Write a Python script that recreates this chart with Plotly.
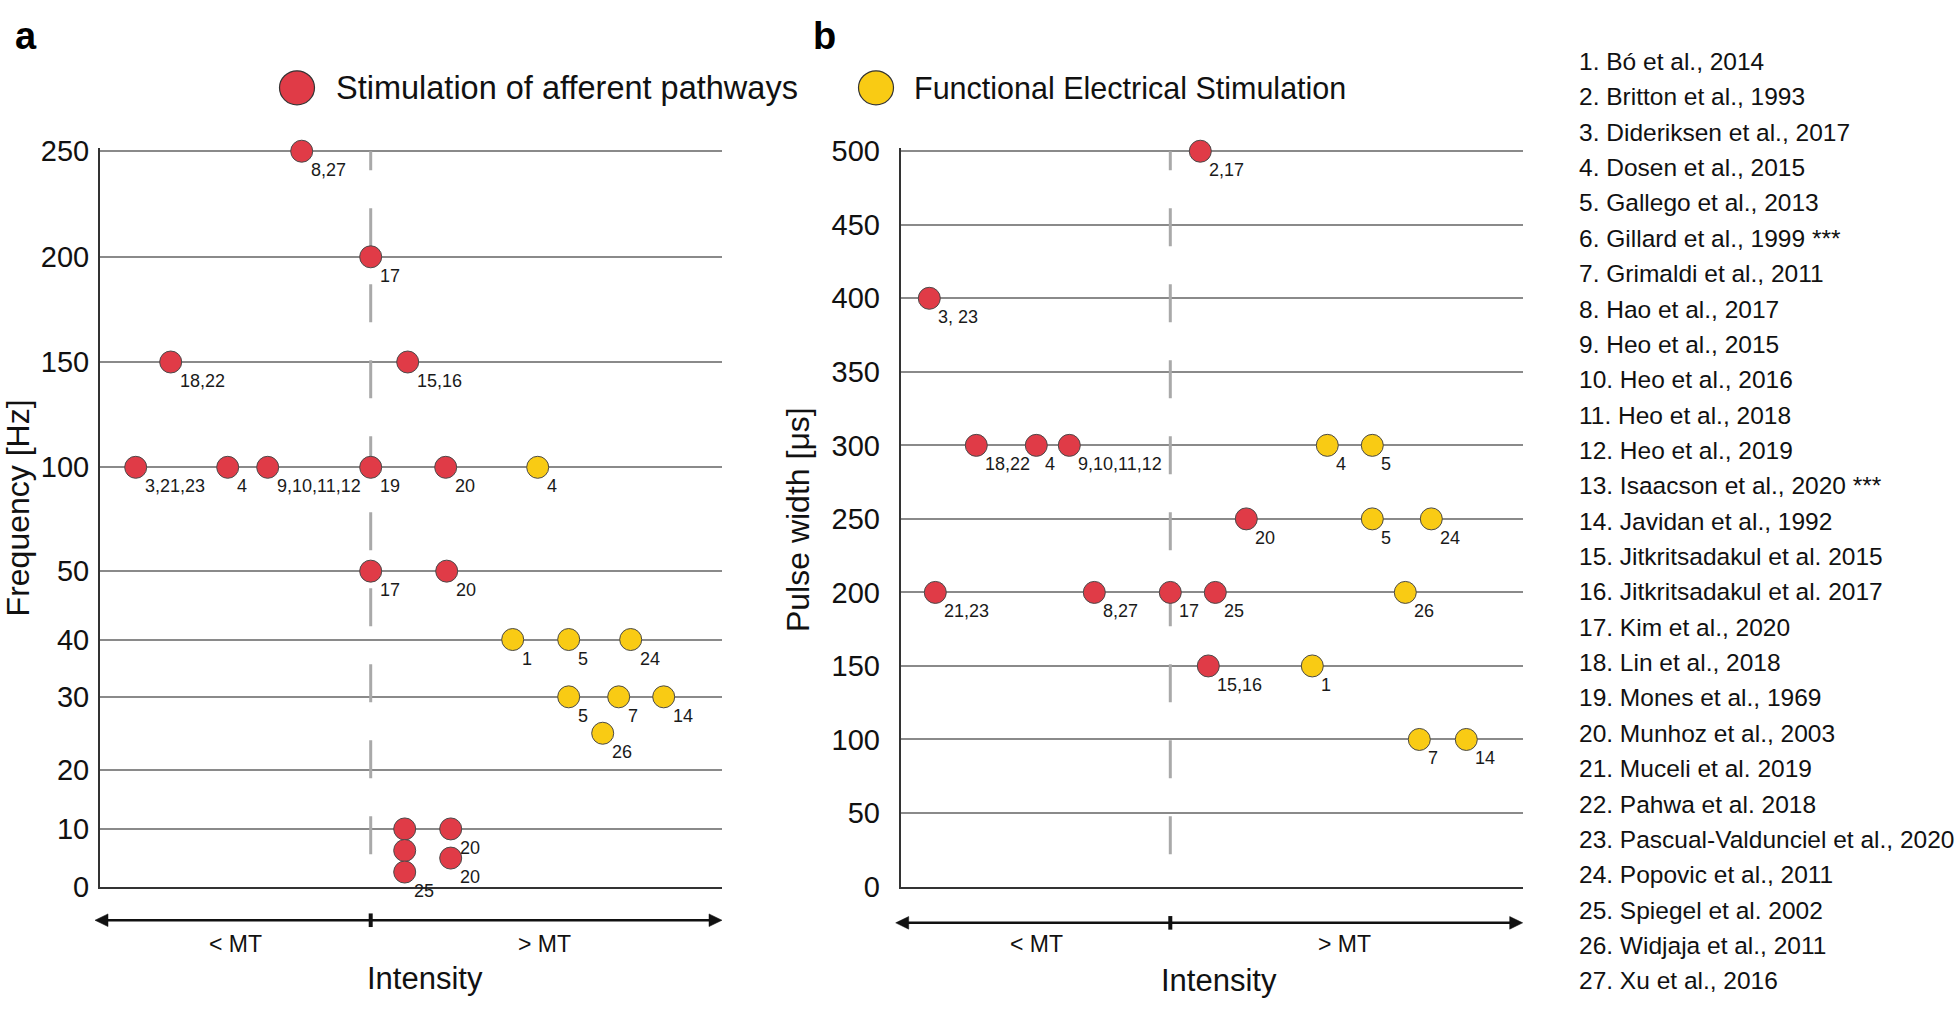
import numpy as np
import plotly.graph_objects as go

W, H = 1960, 1012
FONT = "Liberation Sans, Arial, Helvetica, sans-serif"
RED = "#E03B47"
YELLOW = "#F9CB14"
EDGE = "#4a4a4a"
TXT = "#1a1a1a"

# ---------------- data ----------------
FREQ_TICKS = [0, 10, 20, 30, 40, 50, 100, 150, 200, 250]
PW_TICKS = [0, 50, 100, 150, 200, 250, 300, 350, 400, 450, 500]

# Panel a: frequency [Hz]; x = relative intensity (0 = motor threshold)
freq_red_x = [-69, 0, -200, 37, -235, -143, -103, 0, 75, 0, 76, 34, 34, 34, 80, 80]
freq_red_y = [250, 200, 150, 150, 100, 100, 100, 100, 100, 50, 50, 10, 6.3, 2.6, 10, 5]
freq_red_lbl = ["8,27", "17", "18,22", "15,16", "3,21,23", "4", "9,10,11,12", "19", "20",
                "17", "20", "", "", "25", "20", "20"]
freq_yel_x = [167, 142, 198, 260, 198, 248, 293, 232]
freq_yel_y = [100, 40, 40, 40, 30, 30, 30, 25]
freq_yel_lbl = ["4", "1", "5", "24", "5", "7", "14", "26"]

# Panel b: pulse width [us]
pw_red_x = [30, -241, -194, -134, -101, 76, -235, -76, 0, 45, 38]
pw_red_y = [500, 400, 300, 300, 300, 250, 200, 200, 200, 200, 150]
pw_red_lbl = ["2,17", "3, 23", "18,22", "4", "9,10,11,12", "20", "21,23", "8,27", "17", "25", "15,16"]
pw_yel_x = [157, 202, 202, 261, 235, 142, 249, 296]
pw_yel_y = [300, 300, 250, 250, 200, 150, 100, 100]
pw_yel_lbl = ["4", "5", "5", "24", "26", "1", "7", "14"]

REFERENCES = [
    "1. Bó et al., 2014", "2. Britton et al., 1993", "3. Dideriksen et al., 2017",
    "4. Dosen et al., 2015", "5. Gallego et al., 2013", "6. Gillard et al., 1999 ***",
    "7. Grimaldi et al., 2011", "8. Hao et al., 2017", "9. Heo et al., 2015",
    "10. Heo et al., 2016", "11. Heo et al., 2018", "12. Heo et al., 2019",
    "13. Isaacson et al., 2020 ***", "14. Javidan et al., 1992",
    "15. Jitkritsadakul et al. 2015", "16. Jitkritsadakul et al. 2017",
    "17. Kim et al., 2020", "18. Lin et al., 2018", "19. Mones et al., 1969",
    "20. Munhoz et al., 2003", "21. Muceli et al. 2019", "22. Pahwa et al. 2018",
    "23. Pascual-Valdunciel et al., 2020", "24. Popovic et al., 2011",
    "25. Spiegel et al. 2002", "26. Widjaja et al., 2011", "27. Xu et al., 2016",
]

# ---------------- layout geometry (pixels) ----------------
def px(x):
    return x / W

def py(y):
    return 1 - y / H

# irregular frequency axis: position (px above the axis line) of each tick
FREQ_TICK_POS = [0, 60, 121, 196, 255, 325.4, 432.3, 540.7, 649, 757.7]
EXTRA = 3  # px of headroom so the top gridline is drawn

A_X0, A_X1, A_YB = 100, 722, 900.0
A_YT = A_YB - FREQ_TICK_POS[-1] - EXTRA
B_X0, B_X1, B_YB, B_Y500 = 900.7, 1522.7, 899.3, 142.3
B_SCALE = (B_YB - B_Y500) / 500.0
B_YT = B_Y500 - EXTRA
A_XR = [-270.7, 351.3]
B_XR = [-269.6, 352.4]

fig = go.Figure()


def dash_for(height_px):
    p = height_px / 10.0
    parts = [f"{round(p / 4)}px", f"{round(p / 2)}px"]
    for _ in range(11):
        parts += [f"{round(p / 2)}px", f"{round(p / 2)}px"]
    return ",".join(parts)


def fpos(vals):
    return list(np.interp(vals, FREQ_TICKS, FREQ_TICK_POS))


# divider lines (motor threshold)
fig.add_trace(go.Scatter(x=[0, 0], y=[FREQ_TICK_POS[-1], 0], mode="lines", xaxis="x", yaxis="y",
                         line=dict(color="#a9a9a9", width=3, dash=dash_for(FREQ_TICK_POS[-1])),
                         hoverinfo="skip", showlegend=False))
fig.add_trace(go.Scatter(x=[0, 0], y=[PW_TICKS[-1], 0], mode="lines", xaxis="x2", yaxis="y2",
                         line=dict(color="#a9a9a9", width=3, dash=dash_for(B_YB - B_Y500)),
                         hoverinfo="skip", showlegend=False))

mk = lambda c: dict(size=22, color=c, line=dict(color=EDGE, width=1))

fig.add_trace(go.Scatter(x=freq_red_x, y=fpos(freq_red_y), mode="markers", xaxis="x", yaxis="y",
                         marker=mk(RED), cliponaxis=False, name="Stimulation of afferent pathways",
                         showlegend=False))
fig.add_trace(go.Scatter(x=freq_yel_x, y=fpos(freq_yel_y), mode="markers", xaxis="x", yaxis="y",
                         marker=mk(YELLOW), cliponaxis=False, name="Functional Electrical Stimulation",
                         showlegend=False))
fig.add_trace(go.Scatter(x=pw_red_x, y=pw_red_y, mode="markers", xaxis="x2", yaxis="y2",
                         marker=mk(RED), cliponaxis=False, showlegend=False))
fig.add_trace(go.Scatter(x=pw_yel_x, y=pw_yel_y, mode="markers", xaxis="x2", yaxis="y2",
                         marker=mk(YELLOW), cliponaxis=False, showlegend=False))

annotations = []


def point_labels(xs, ys, labels, xref, yref):
    for x, y, t in zip(xs, ys, labels):
        if not t:
            continue
        annotations.append(dict(x=x, y=y, xref=xref, yref=yref, text=t, showarrow=False,
                                xanchor="left", yanchor="middle", xshift=7, yshift=-19,
                                font=dict(size=18, color=TXT, family=FONT)))


point_labels(freq_red_x, fpos(freq_red_y), freq_red_lbl, "x", "y")
point_labels(freq_yel_x, fpos(freq_yel_y), freq_yel_lbl, "x", "y")
point_labels(pw_red_x, pw_red_y, pw_red_lbl, "x2", "y2")
point_labels(pw_yel_x, pw_yel_y, pw_yel_lbl, "x2", "y2")


def ptext(x, y, text, size, xanchor="center", bold=False, angle=0):
    annotations.append(dict(x=px(x), y=py(y), xref="paper", yref="paper", text=text,
                            showarrow=False, xanchor=xanchor, yanchor="middle", textangle=angle,
                            font=dict(size=size, color="#111" if not bold else "#000",
                                      family=FONT, weight="bold" if bold else "normal")))


# panel letters
ptext(13, 24, "a", 38, "left", bold=True)
ptext(811, 24, "b", 38, "left", bold=True)

# legend
shapes = []
for cx, col, label, tx, fs in [(297, RED, "Stimulation of afferent pathways", 334, 32.5),
                               (876, YELLOW, "Functional Electrical Stimulation", 912, 30.5)]:
    shapes.append(dict(type="circle", xref="paper", yref="paper",
                       x0=px(cx - 17.5), x1=px(cx + 17.5), y0=py(77 + 17.5), y1=py(77 - 17.5),
                       fillcolor=col, line=dict(color="#333", width=1.2)))
    ptext(tx, 77, label, fs, "left")

# axis titles
ptext(18, 510, "Frequency [Hz]", 32, angle=-90)
ptext(798, 522, "Pulse width [μs]", 32, angle=-90)

# intensity arrows
for (x0, x1, xd, ya, ytxt, yint, dint) in [(95, 722, 370.7, 934, 958, 994, 54),
                                           (895.7, 1522.7, 1170.3, 936.7, 958, 996, 49)]:
    shapes.append(dict(type="line", xref="paper", yref="paper", x0=px(x0 + 8), x1=px(x1 - 8),
                       y0=py(ya), y1=py(ya), line=dict(color="#111", width=2.5)))
    shapes.append(dict(type="path", xref="paper", yref="paper", fillcolor="#111",
                       line=dict(color="#111", width=0.5),
                       path=f"M{px(x0)},{py(ya)} L{px(x0 + 13)},{py(ya - 6.5)} L{px(x0 + 13)},{py(ya + 6.5)} Z"))
    shapes.append(dict(type="path", xref="paper", yref="paper", fillcolor="#111",
                       line=dict(color="#111", width=0.5),
                       path=f"M{px(x1)},{py(ya)} L{px(x1 - 13)},{py(ya - 6.5)} L{px(x1 - 13)},{py(ya + 6.5)} Z"))
    shapes.append(dict(type="line", xref="paper", yref="paper", x0=px(xd), x1=px(xd),
                       y0=py(ya - 7), y1=py(ya + 7), line=dict(color="#111", width=4)))
    ptext((x0 + xd) / 2 + 3, ytxt, "&lt; MT", 23)
    ptext((xd + x1) / 2 - 2, ytxt, "&gt; MT", 23)
    ptext(xd + dint, yint, "Intensity", 31)

# reference list
for i, ref in enumerate(REFERENCES):
    ptext(1577, 50 + i * 36.4, ref, 24.5, "left")

axis_common = dict(showline=True, linecolor="#333", linewidth=2, zeroline=False, fixedrange=True)

fig.update_layout(
    width=W, height=H, margin=dict(l=0, r=0, t=0, b=0),
    paper_bgcolor="white", plot_bgcolor="white", showlegend=False,
    font=dict(family=FONT, color=TXT),
    xaxis=dict(domain=[px(A_X0), px(A_X1)], range=A_XR, showgrid=False, showticklabels=False,
               ticks="", anchor="y", **axis_common),
    yaxis=dict(domain=[py(A_YB), py(A_YT)], range=[0, FREQ_TICK_POS[-1] + EXTRA], anchor="x",
               tickvals=FREQ_TICK_POS, ticktext=[str(t) for t in FREQ_TICKS],
               showgrid=True, gridcolor="#8a8a8a", gridwidth=1.5,
               ticks="outside", ticklen=3, tickcolor="rgba(0,0,0,0)",
               tickfont=dict(size=29, color="#111", family=FONT), **axis_common),
    xaxis2=dict(domain=[px(B_X0), px(B_X1)], range=B_XR, showgrid=False, showticklabels=False,
                ticks="", anchor="y2", **axis_common),
    yaxis2=dict(domain=[py(B_YB), py(B_YT)], range=[0, 500 + EXTRA / B_SCALE], anchor="x2",
                tickvals=PW_TICKS, ticktext=[str(t) for t in PW_TICKS],
                showgrid=True, gridcolor="#8a8a8a", gridwidth=1.5,
                ticks="outside", ticklen=13, tickcolor="rgba(0,0,0,0)",
                tickfont=dict(size=29, color="#111", family=FONT), **axis_common),
    annotations=annotations,
    shapes=shapes,
)

fig.write_html("out.html", config={"displayModeBar": False},
               post_script="document.body.style.margin='0';document.body.style.overflow='hidden';")
